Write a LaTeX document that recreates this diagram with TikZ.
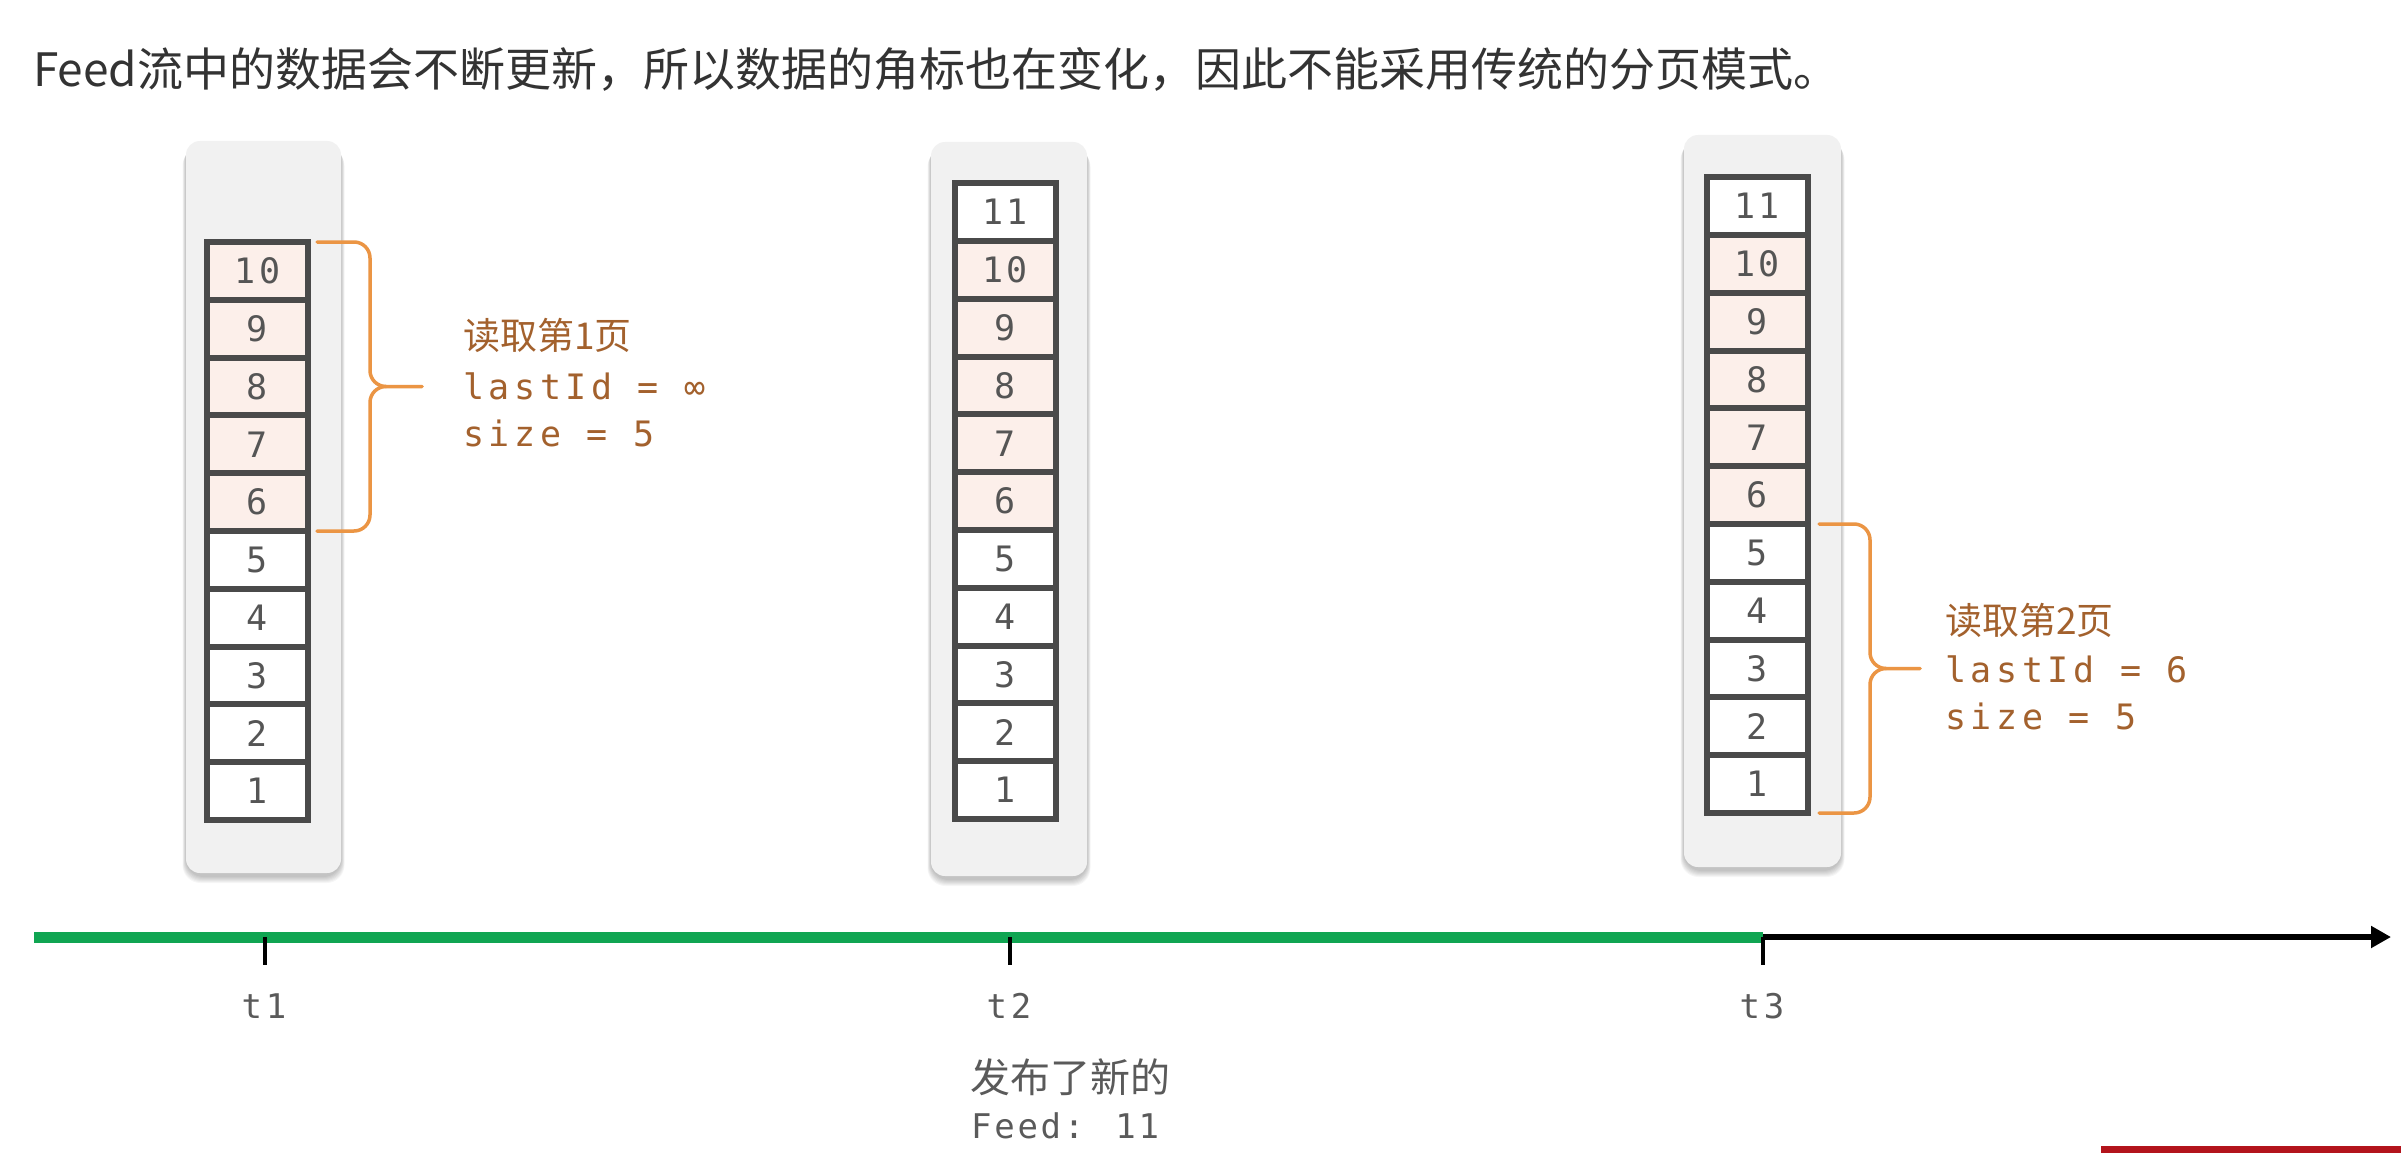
\documentclass[tikz,border=0pt]{standalone}
\usepackage{fontspec}
\setmainfont{Noto Sans CJK SC}
\newfontfamily\monof[LetterSpace=11]{DejaVu Sans Mono}
\newfontfamily\monow[LetterSpace=13]{DejaVu Sans Mono}
\newfontfamily\monon[LetterSpace=8]{DejaVu Sans Mono}
\newfontfamily\cjkf{Noto Sans CJK SC}
\usetikzlibrary{arrows.meta}
\definecolor{panelgray}{HTML}{F1F1F1}
\definecolor{cellline}{HTML}{4A4A4A}
\definecolor{pinkfill}{HTML}{FCEFEA}
\definecolor{numgray}{HTML}{555555}
\definecolor{braceorange}{HTML}{EB9544}
\definecolor{bracetext}{HTML}{A3612D}
\definecolor{axisgreen}{HTML}{10A552}
\definecolor{titlegray}{HTML}{333333}
\definecolor{labelgray}{HTML}{5A5A5A}
\definecolor{barred}{HTML}{B3141C}
\tikzset{
  panel/.style={fill=panelgray, rounded corners=14pt, draw=none, inner sep=0pt},
  cell/.style={draw=cellline, line width=6pt, minimum width=101pt, minimum height=57.8pt,
    inner sep=0pt, fill=white, font=\monof\fontsize{35}{40}\selectfont, text=numgray},
  hotcell/.style={cell, fill=pinkfill},
  bracepath/.style={draw=braceorange, line width=3.5pt, line cap=round},
  cjklbl/.style={anchor=base west, inner sep=0pt, text=bracetext, font=\cjkf\fontsize{37}{42}\selectfont},
  monolbl/.style={anchor=base west, inner sep=0pt, text=bracetext, font=\monow\fontsize{35}{40}\selectfont},
  tlabel/.style={anchor=base, inner sep=0pt, text=labelgray, font=\monof\fontsize{34}{40}\selectfont},
  titlestyle/.style={anchor=base west, inner sep=0pt, text=titlegray, font=\cjkf\fontsize{46}{54}\selectfont},
  ticks/.style={draw=black, line width=4.5pt},
}
\newcommand\feedcolumn[4]{%
  \foreach \i in {1,...,#4}{%
    \ifnum\i>5 \ifnum\i<11 \def\cst{hotcell}\else\def\cst{cell}\fi\else\def\cst{cell}\fi
    \node[\cst] (#1-\i) at (#2,{#3-(\i-0.5)*57.8}) {\i};
  }}
\newcommand\rightbrace[5]{% x0, xv, xt, ytop, ybot
  \draw[bracepath] (#1,#4) -- (#2-16,#4) to[out=0,in=90] (#2,#4+16)
     -- (#2,{(#4+#5)/2-16}) to[out=-90,in=180] (#2+16,{(#4+#5)/2}) -- (#3,{(#4+#5)/2});
  \draw[bracepath] (#1,#5) -- (#2-16,#5) to[out=0,in=-90] (#2,#5-16)
     -- (#2,{(#4+#5)/2+16}) to[out=90,in=180] (#2+16,{(#4+#5)/2});
}
\begin{document}
\begin{tikzpicture}[x=1pt,y=-1pt]
\fill[white] (0,0) rectangle (2401,1153);
\useasboundingbox (0,0) rectangle (2401,1153);

% title
\node[titlestyle] (title) at (33,87) {Feed流中的数据会不断更新，所以数据的角标也在变化，因此不能采用传统的分页模式。};

% panels with soft shadow
\foreach \px/\py/\pw/\ph/\pn in {263.5/507/155/732/p1, 1009/509/156/734/p2, 1762.5/501/157/732/p3}{
  \foreach \k in {1,...,7}{
    \fill[black, opacity=0.035, rounded corners=18pt]
      ({\px-\pw/2-\k/2},{\py-\ph/2+\k}) rectangle ({\px+\pw/2+\k/2},{\py+\ph/2+3+\k});
  }
  \node[panel, minimum width=\pw pt, minimum height=\ph pt] (\pn) at (\px,\py) {};
}

% cells
\feedcolumn{c1}{257.5}{820}{10}
\feedcolumn{c2}{1005}{819}{11}
\feedcolumn{c3}{1757}{813}{11}

% braces
\rightbrace{317}{370}{422}{242}{531}
\rightbrace{1819}{1870}{1920}{524}{813}

% brace labels
\node[cjklbl] (r1a) at (463,349) {读取第1页};
\node[monolbl] (r1b) at (463,399) {lastId = ∞};
\node[monolbl] (r1c) at (463,446) {size = 5};
\node[cjklbl] (r2a) at (1945,634) {读取第2页};
\node[monolbl] (r2b) at (1945,682) {lastId = 6};
\node[monolbl] (r2c) at (1945,729) {size = 5};

% time axis
\coordinate (axL) at (34,937);
\coordinate (t1) at (265,937);
\coordinate (t2) at (1010,937);
\coordinate (t3) at (1763,937);
\coordinate (axR) at (2391,937);
\draw[axisgreen, line width=11pt] (axL) -- (t3);
\draw[black, line width=6pt, -{Triangle[length=20pt,width=21pt]}] (t3) -- (axR);
\foreach \t in {t1,t2,t3}{ \draw[ticks] (\t) -- ++(0,28); }

\node[tlabel] (lt1) at (264,1018) {t1};
\node[tlabel] (lt2) at (1009,1018) {t2};
\node[tlabel] (lt3) at (1762,1018) {t3};

\node[anchor=base west, inner sep=0pt, text=labelgray, font=\cjkf\fontsize{40}{46}\selectfont] (pub) at (970,1092) {发布了新的};
\node[anchor=base west, inner sep=0pt, text=labelgray, font=\monon\fontsize{34}{40}\selectfont] (feed) at (971,1138) {Feed: 11};

% bottom-right bar
\fill[barred] (2101,1146) rectangle (2401,1153);
\end{tikzpicture}
\end{document}
